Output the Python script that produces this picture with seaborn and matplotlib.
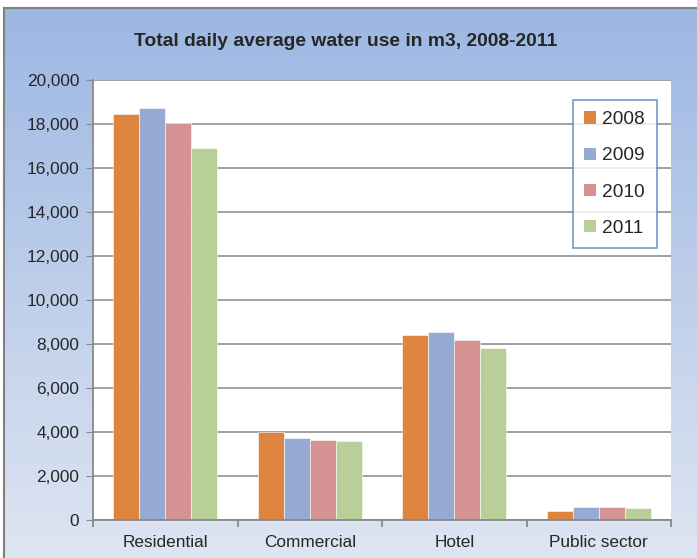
import numpy as np
import pandas as pd
import seaborn as sns
import matplotlib.pyplot as plt
from matplotlib.ticker import FuncFormatter, FixedLocator

# datos
categorias = ['Residential', 'Commercial', 'Hotel', 'Public sector']
anios = ['2008', '2009', '2010', '2011']
v2008 = [18450, 4000, 8400, 430]
v2009 = [18730, 3740, 8530, 580]
v2010 = [18040, 3640, 8200, 580]
v2011 = [16900, 3580, 7820, 550]
colores = ['#DD843E', '#95ABD4', '#D49292', '#B9CF98']

df = pd.DataFrame({
    'sector': categorias * 4,
    'anio': [a for a in anios for _ in categorias],
    'valor': v2008 + v2009 + v2010 + v2011,
})

sns.set_style('white')
plt.rcParams['font.family'] = ['Liberation Sans', 'DejaVu Sans']

fig = plt.figure(figsize=(6.97, 5.58), dpi=100)

# fondo con degradado
bg = fig.add_axes([4/697, 0, 1 - 4/697 + 0.01, 550/558], zorder=0)
grad = np.linspace(0, 1, 256).reshape(-1, 1)
c_top = np.array([0x9D, 0xB7, 0xE3]) / 255
c_bot = np.array([0xDE, 0xE5, 0xF2]) / 255
img = c_top + (c_bot - c_top) * grad[..., None]
bg.imshow(img, aspect='auto', extent=[0, 1, 0, 1])
bg.set_xlim(0, 1)
bg.set_ylim(0, 1)
bg.set_xticks([])
bg.set_yticks([])
for s in ['right', 'bottom']:
    bg.spines[s].set_visible(False)
for s in ['left', 'top']:
    bg.spines[s].set_color('#808080')
    bg.spines[s].set_linewidth(1.5)

ax = fig.add_axes([93/697, 1 - 520/558, 578/697, 440/558], zorder=1)
ax.set_facecolor('white')
sns.barplot(data=df, x='sector', y='valor', hue='anio', palette=colores,
            saturation=1, width=0.72, gap=0, edgecolor='white', linewidth=0.4,
            ax=ax)

ax.set_ylim(0, 20000)
ax.set_xlim(-0.5, 3.5)
ax.set_yticks(np.arange(0, 20001, 2000))
ax.yaxis.set_major_formatter(FuncFormatter(lambda v, p: f'{int(v):,}'))
ax.grid(axis='y', color='#999999', linewidth=1.3)
ax.set_axisbelow(True)
ax.set_xlabel('')
ax.set_ylabel('')

for s in ['top', 'right']:
    ax.spines[s].set_visible(False)
for s in ['left', 'bottom']:
    ax.spines[s].set_color('#888888')
    ax.spines[s].set_linewidth(1.3)

ax.tick_params(axis='y', which='major', left=True, length=5, color='#888888',
               labelsize=12.4, pad=5)
ax.tick_params(axis='x', which='major', bottom=False, labelsize=12.4, pad=7)
ax.xaxis.set_minor_locator(FixedLocator([-0.5, 0.5, 1.5, 2.5, 3.5]))
ax.tick_params(axis='x', which='minor', bottom=True, length=5, color='#888888',
               width=1.3)

leg = ax.legend(loc='upper left', bbox_to_anchor=(0.83, 0.955), title=None,
                fontsize=13.8, frameon=True, fancybox=False, handlelength=0.6,
                handleheight=0.6, handletextpad=0.35, labelspacing=1.0,
                borderpad=0.6, borderaxespad=0)
leg.get_frame().set_edgecolor('#4F81BD')
leg.get_frame().set_linewidth(1.2)
for h in leg.legend_handles:
    h.set_edgecolor('none')

fig.text(346/697, 1 - 42/558, 'Total daily average water use in m3, 2008-2011',
         ha='center', va='center', fontsize=13.9, fontweight='bold')

fig.savefig('out.png', dpi=100)
